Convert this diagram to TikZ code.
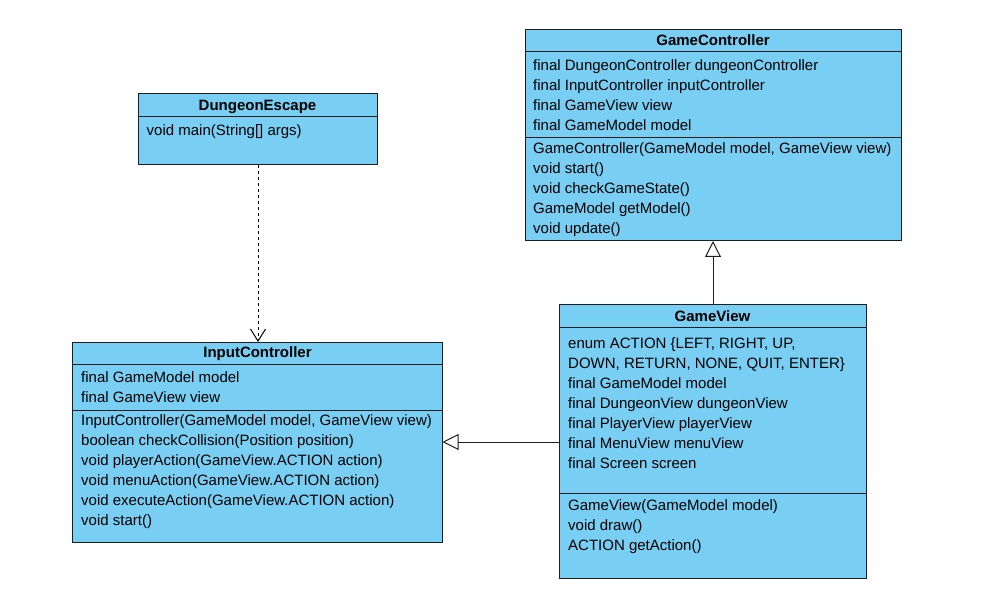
\documentclass[tikz,border=0pt]{standalone}
\usepackage{fontspec}
\setmainfont{Liberation Sans}
\usetikzlibrary{arrows.meta}
\definecolor{classfill}{RGB}{121,207,243}
\definecolor{classline}{RGB}{30,30,30}
\begin{document}
\begin{tikzpicture}[x=1pt,y=-1pt,
  classbox/.style={draw=classline, fill=classfill, line width=1pt, inner sep=0pt, outer sep=0pt, anchor=north west},
  classtitle/.style={font=\fontsize{15}{18}\selectfont\bfseries, anchor=base, inner sep=0pt},
  member/.style={font=\fontsize{15}{18}\selectfont, anchor=base west, inner sep=0pt},
  sepline/.style={draw=classline, line width=1pt},
  inherit/.style={draw=classline, line width=1pt, -{Triangle[open, length=16pt, width=16pt]}},
  depend/.style={draw=black, line width=1pt, dashed, dash pattern=on 3pt off 3pt, -{Straight Barb[length=12pt, width=15pt]}}]
\useasboundingbox[fill=white] (0,0) rectangle (995,601);

% GameController
\node[classbox, minimum width=376pt, minimum height=211pt] (gc) at (525,30) {};
\draw[sepline] (525,52) -- (901,52);
\draw[sepline] (525,138) -- (901,138);
\node[classtitle] (gct) at (713,46) {GameController};
\node[member] (gc1) at (533,70.5) {final DungeonController dungeonController};
\node[member] (gc2) at (533,90.5) {final InputController inputController};
\node[member] (gc3) at (533,110.5) {final GameView view};
\node[member] (gc4) at (533,130.5) {final GameModel model};
\node[member] (gc5) at (533,153.5) {GameController(GameModel model, GameView view)};
\node[member] (gc6) at (533,173.5) {void start()};
\node[member] (gc7) at (533,193.5) {void checkGameState()};
\node[member] (gc8) at (533,213.5) {GameModel getModel()};
\node[member] (gc9) at (533,233.5) {void update()};

% DungeonEscape
\node[classbox, minimum width=239pt, minimum height=71pt] (de) at (138,94) {};
\draw[sepline] (138,116.5) -- (377,116.5);
\node[classtitle] (det) at (257.5,111) {DungeonEscape};
\node[member] (de1) at (146.5,135.5) {void main(String[] args)};

% InputController
\node[classbox, minimum width=370pt, minimum height=200pt] (ic) at (72.5,342) {};
\draw[sepline] (72.5,364.5) -- (442.5,364.5);
\draw[sepline] (72.5,410) -- (442.5,410);
\node[classtitle] (ict) at (257.5,357.5) {InputController};
\node[member] (ic1) at (81,382.5) {final GameModel model};
\node[member] (ic2) at (81,402.5) {final GameView view};
\node[member] (ic3) at (81,425.5) {InputController(GameModel model, GameView view)};
\node[member] (ic4) at (81,445.5) {boolean checkCollision(Position position)};
\node[member] (ic5) at (81,465.5) {void playerAction(GameView.ACTION action)};
\node[member] (ic6) at (81,485.5) {void menuAction(GameView.ACTION action)};
\node[member] (ic7) at (81,505.5) {void executeAction(GameView.ACTION action)};
\node[member] (ic8) at (81,525.5) {void start()};

% GameView
\node[classbox, minimum width=307pt, minimum height=273pt] (gv) at (559,305) {};
\draw[sepline] (559,327.5) -- (866,327.5);
\draw[sepline] (559,493) -- (866,493);
\node[classtitle] (gvt) at (712.5,321) {GameView};
\node[member] (gv1) at (568,348) {enum ACTION \{LEFT, RIGHT, UP,};
\node[member] (gv2) at (568,368) {DOWN, RETURN, NONE, QUIT, ENTER\}};
\node[member] (gv3) at (568,388) {final GameModel model};
\node[member] (gv4) at (568,408) {final DungeonView dungeonView};
\node[member] (gv5) at (568,428) {final PlayerView playerView};
\node[member] (gv6) at (568,448) {final MenuView menuView};
\node[member] (gv7) at (568,468) {final Screen screen};
\node[member] (gv8) at (568,510) {GameView(GameModel model)};
\node[member] (gv9) at (568,530) {void draw()};
\node[member] (gv10) at (568,550) {ACTION getAction()};

% connectors
\coordinate (gvtop) at (713,305);
\coordinate (gcbot) at (713,241);
\draw[inherit] (gvtop) -- (gcbot);
\coordinate (gvleft) at (559,442);
\coordinate (icright) at (442.5,442);
\draw[inherit] (gvleft) -- (icright);
\coordinate (debot) at (258,165);
\coordinate (ictop) at (258,342);
\draw[depend] (debot) -- (ictop);
\end{tikzpicture}
\end{document}
